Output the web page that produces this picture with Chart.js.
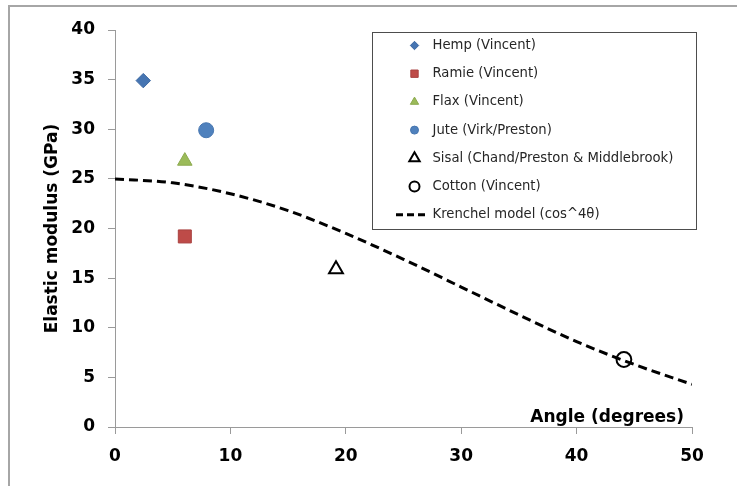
<!DOCTYPE html>
<html>
<head>
<meta charset="utf-8">
<script src="https://cdn.jsdelivr.net/npm/chart.js@4.4.1/dist/chart.umd.min.js"></script>
<style>
  html, body { margin: 0; padding: 0; background: #fff; }
  #wrap { position: relative; width: 737px; height: 486px; }
  #frame { position: absolute; left: 8px; top: 5px; right: 0; bottom: 0; border-top: 2px solid #a6a6a6; border-left: 2px solid #a6a6a6; }
  canvas { position: absolute; left: 0; top: 0; }
</style>
</head>
<body>
<div id="wrap">
  <div id="frame"></div>
  <canvas id="modulusChart" width="737" height="486"></canvas>
</div>
<script>
const fibreNames = ["Hemp (Vincent)", "Ramie (Vincent)", "Flax (Vincent)", "Jute (Virk/Preston)", "Sisal (Chand/Preston & Middlebrook)", "Cotton (Vincent)"];
const fibreAngle = [2.45, 6.05, 6.05, 7.9, 19.15, 44.1];
const fibreModulus = [34.9, 19.2, 26.8, 29.9, 15.9, 6.8];

const krenchelName = "Krenchel model (cos^4θ)";
const krenchelAngle = [0, 5, 10, 15, 20, 25, 30, 35, 40, 45, 50];
const krenchelModulus = [25, 24.6, 23.5, 21.8, 19.5, 16.9, 14.1, 11.3, 8.6, 6.3, 4.3];

const xTicks = [0, 10, 20, 30, 40, 50];
const yTicks = [0, 5, 10, 15, 20, 25, 30, 35, 40];

// marker look, chart size and legend size
const fibreStyles = [
  { pointStyle: "rectRot", fill: "#4675B2", edge: "#3C68A2", width: 1, r: 7.2, lr: 4.2 },
  { pointStyle: "rect", fill: "#BE4B48", edge: "#A94240", width: 1, r: 9.2, lr: 5.2 },
  { pointStyle: "triangle", fill: "#9BBB59", edge: "#8DAA50", width: 1, r: 8.4, lr: 4.8 },
  { pointStyle: "circle", fill: "#4F81BD", edge: "#4776B0", width: 1, r: 7.5, lr: 4 },
  { pointStyle: "triangle", fill: "rgba(255,255,255,0)", edge: "#000", width: 2, r: 8, lr: 6 },
  { pointStyle: "circle", fill: "rgba(255,255,255,0)", edge: "#000", width: 2, r: 7.4, lr: 5 }
];

const datasets = fibreNames.map((name, i) => ({
  label: name,
  data: [{ x: fibreAngle[i], y: fibreModulus[i] }],
  pointStyle: fibreStyles[i].pointStyle,
  pointRadius: fibreStyles[i].r,
  pointHoverRadius: fibreStyles[i].r,
  backgroundColor: fibreStyles[i].fill,
  borderColor: fibreStyles[i].edge,
  borderWidth: fibreStyles[i].width,
  order: 1
}));

datasets.push({
  label: krenchelName,
  data: krenchelAngle.map((a, i) => ({ x: a, y: krenchelModulus[i] })),
  showLine: true,
  pointRadius: 0,
  borderColor: "#000",
  borderWidth: 3,
  borderDash: [9, 5],
  cubicInterpolationMode: "monotone",
  fill: false,
  order: 2
});

const tickFont = { family: "DejaVu Sans", weight: "bold", size: 17 };

// x title sits inside the plot, over the axis, right aligned
const angleTitle = {
  id: "angleTitle",
  afterDraw(chart) {
    const ctx = chart.ctx;
    const area = chart.chartArea;
    ctx.save();
    ctx.font = "bold 17px 'DejaVu Sans'";
    ctx.fillStyle = "#000";
    ctx.textAlign = "right";
    ctx.textBaseline = "alphabetic";
    ctx.fillText("Angle (degrees)", area.right - 8, area.bottom - 5);
    ctx.restore();
  }
};

// boxed legend in the top right corner
const boxLegend = {
  id: "boxLegend",
  afterDraw(chart) {
    const ctx = chart.ctx;
    const left = 372.5, top = 32.5, w = 324, h = 197;
    ctx.save();
    ctx.fillStyle = "#fff";
    ctx.fillRect(left, top, w, h);
    ctx.strokeStyle = "#4d4d4d";
    ctx.lineWidth = 1;
    ctx.strokeRect(left, top, w, h);

    ctx.font = "13.2px 'DejaVu Sans'";
    ctx.textBaseline = "middle";
    const rowY = i => 45.5 + i * 28.2;

    fibreNames.forEach((name, i) => {
      const s = fibreStyles[i];
      ctx.save();
      ctx.fillStyle = s.fill;
      ctx.strokeStyle = s.edge;
      ctx.lineWidth = s.width;
      Chart.helpers.drawPoint(ctx, { pointStyle: s.pointStyle, radius: s.lr, borderWidth: s.width, rotation: 0 }, 414.5, rowY(i));
      ctx.restore();
      ctx.fillStyle = "#262626";
      ctx.fillText(name, 432.5, rowY(i));
    });

    const ky = rowY(6);
    ctx.strokeStyle = "#000";
    ctx.lineWidth = 3;
    ctx.setLineDash([7, 4]);
    ctx.beginPath();
    ctx.moveTo(396, ky);
    ctx.lineTo(428, ky);
    ctx.stroke();
    ctx.setLineDash([]);
    ctx.fillStyle = "#262626";
    ctx.fillText(krenchelName, 432.5, ky);
    ctx.restore();
  }
};

new Chart(document.getElementById("modulusChart"), {
  type: "scatter",
  data: { datasets },
  plugins: [angleTitle, boxLegend],
  options: {
    responsive: false,
    animation: false,
    layout: { padding: { top: 30, right: 45, left: 0, bottom: 0 } },
    plugins: {
      legend: { display: false },
      tooltip: { enabled: false }
    },
    scales: {
      x: {
        type: "linear",
        min: xTicks[0],
        max: xTicks[xTicks.length - 1],
        afterBuildTicks: scale => { scale.ticks = xTicks.map(v => ({ value: v })); },
        afterFit: scale => { scale.height = 59; },
        ticks: { font: tickFont, color: "#000", padding: 12 },
        grid: { drawOnChartArea: false, drawTicks: true, tickLength: 7, color: "#9a9a9a" },
        border: { color: "#9a9a9a", width: 1 }
      },
      y: {
        type: "linear",
        min: yTicks[0],
        max: yTicks[yTicks.length - 1],
        afterBuildTicks: scale => { scale.ticks = yTicks.map(v => ({ value: v })); },
        afterFit: scale => { scale.width = 115; },
        ticks: { font: tickFont, color: "#000", padding: 13 },
        grid: { drawOnChartArea: false, drawTicks: true, tickLength: 7, color: "#9a9a9a" },
        border: { color: "#9a9a9a", width: 1 },
        title: {
          display: true,
          text: "Elastic modulus (GPa)",
          font: tickFont,
          color: "#000",
          padding: { top: 42, bottom: 0 }
        }
      }
    }
  }
});
</script>
</body>
</html>
